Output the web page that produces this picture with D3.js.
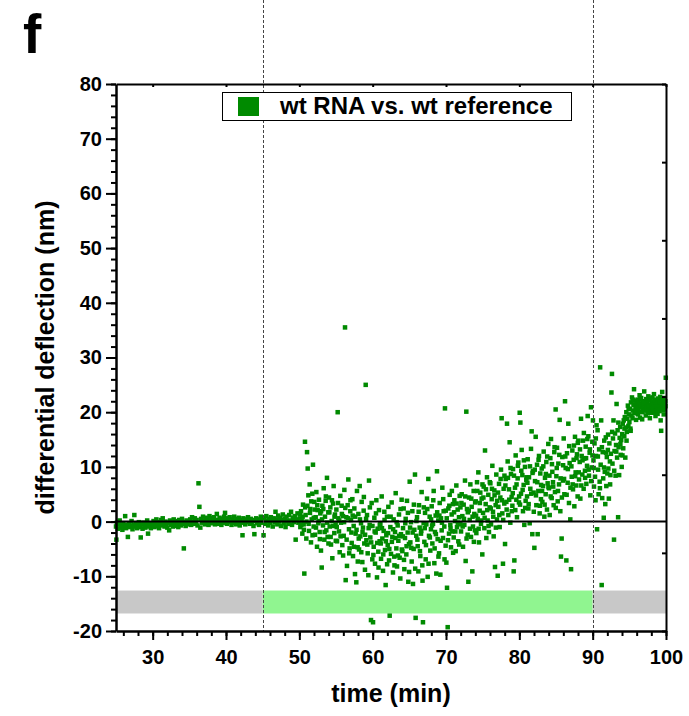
<!DOCTYPE html>
<html><head><meta charset="utf-8">
<script src="https://cdn.jsdelivr.net/npm/d3@7"></script>
<style>
body{margin:0;background:#fff}
svg{display:block}
text{font-family:"Liberation Sans",Arial,Helvetica,sans-serif;font-weight:bold;fill:#000}
</style>
</head><body>
<svg id="chart" width="689" height="716"></svg>
<script>
// ---------- data ----------
const panelLabel = "f";
const xTitle = "time (min)";
const yTitle = "differential deflection (nm)";
const seriesName = "wt RNA vs. wt reference";
const xDomain = [25, 100];
const yDomain = [-20, 80];
const xTicks = [30, 40, 50, 60, 70, 80, 90, 100];
const yTicks = [-20, -10, 0, 10, 20, 30, 40, 50, 60, 70, 80];
const markerTimes = [45, 90];
const stageFrom = [25, 45, 90];
const stageTo = [45, 90, 100];
const stageKind = ["off", "on", "off"];
const stageRange = [-16.8, -12.6];

// baseline 25-50 min
const baseline = [
[25.00,-0.9],[25.05,-3.3],[25.12,-0.2],[25.25,-1.3],[25.37,-0.5],[25.50,0.2],[25.62,-1.1],[25.75,-0.7],[25.87,-1.5],
[26.00,-0.3],[26.12,-0.9],[26.25,1.0],[26.37,-1.2],[26.50,-0.6],[26.62,-2.8],[26.75,-0.4],[26.87,-1.0],
[27.00,-0.8],[27.12,0.1],[27.25,-1.4],[27.37,-0.6],[27.50,1.2],[27.62,-0.9],[27.75,-0.3],[27.87,-1.2],
[28.00,-0.7],[28.12,-0.1],[28.25,-1.0],[28.37,-2.9],[28.50,-0.5],[28.62,-1.3],[28.75,-0.2],[28.87,-0.8],
[29.00,-1.1],[29.12,-0.4],[29.25,0.2],[29.37,-2.2],[29.50,-0.9],[29.62,-0.3],[29.75,-1.2],[29.87,-0.6],
[30.00,-0.5],[30.12,0.1],[30.25,-1.0],[30.37,-0.3],[30.50,0.4],[30.62,-0.8],[30.75,-0.1],[30.87,-1.2],
[31.00,-0.4],[31.12,0.3],[31.25,-0.7],[31.37,0.6],[31.50,-0.2],[31.62,-0.9],[31.75,0.0],[31.87,-0.5],
[32.00,-1.1],[32.12,-0.2],[32.25,-1.6],[32.37,0.2],[32.50,-0.6],[32.62,-0.1],[32.75,-0.9],[32.87,0.4],
[33.00,-0.3],[33.12,-0.8],[33.25,0.1],[33.37,-0.5],[33.50,-1.0],[33.62,0.3],[33.75,-0.2],[33.87,-0.7],
[34.00,0.5],[34.12,-0.4],[34.25,-4.9],[34.37,-0.1],[34.50,-0.8],[34.62,0.2],[34.75,-0.5],[34.87,0.0],
[35.00,-0.3],[35.12,0.4],[35.25,-0.6],[35.37,0.8],[35.50,0.0],[35.62,-0.4],[35.75,0.6],[35.87,-0.1],
[36.00,0.3],[36.12,-0.7],[36.25,7.0],[36.37,2.7],[36.50,-1.1],[36.62,0.5],[36.75,-0.2],[36.87,0.9],
[37.00,0.1],[37.12,-0.5],[37.25,0.7],[37.37,-0.2],[37.50,0.4],[37.62,-0.6],[37.75,1.0],[37.87,0.2],
[38.00,-0.3],[38.12,0.6],[38.25,-0.1],[38.37,0.8],[38.50,-0.5],[38.62,0.3],[38.75,1.4],[38.87,0.0],
[39.00,-0.4],[39.12,0.7],[39.25,0.1],[39.37,-0.6],[39.50,0.5],[39.62,-0.2],[39.75,0.9],[39.87,1.6],
[40.00,0.2],[40.12,-0.4],[40.25,0.6],[40.37,-0.1],[40.50,0.8],[40.62,0.0],[40.75,-0.6],[40.87,0.4],
[41.00,-0.2],[41.12,0.9],[41.25,0.1],[41.37,-0.5],[41.50,0.5],[41.62,-0.1],[41.75,0.7],[41.87,-0.7],
[42.00,0.3],[42.12,-0.2],[42.25,-2.5],[42.37,0.6],[42.50,0.0],[42.62,-0.5],[42.75,0.4],[42.87,-0.1],
[43.00,0.8],[43.12,0.2],[43.25,-0.4],[43.37,0.5],[43.50,-0.2],[43.62,0.3],[43.75,-0.8],[43.87,-2.3],
[44.00,0.1],[44.12,0.6],[44.25,-0.3],[44.37,0.4],[44.50,-0.6],[44.62,0.2],[44.75,0.9],[44.87,-0.2],
[45.00,0.3],[45.12,-2.5],[45.25,0.6],[45.37,-0.4],[45.50,1.0],[45.62,0.1],[45.75,-0.7],[45.87,0.5],
[46.00,-0.2],[46.12,0.8],[46.25,0.2],[46.37,-0.9],[46.50,0.6],[46.62,-0.1],[46.75,1.8],[46.87,0.4],
[47.00,-0.5],[47.12,1.1],[47.25,0.0],[47.37,0.7],[47.50,-0.8],[47.62,0.3],[47.75,1.3],[47.87,-0.3],
[48.00,0.5],[48.12,-1.0],[48.25,0.9],[48.37,0.1],[48.50,-0.4],[48.62,1.2],[48.75,0.2],[48.87,1.8],
[49.00,-0.6],[49.12,0.7],[49.25,-0.1],[49.37,1.0],[49.50,-3.3],[49.62,0.4],[49.75,1.5],[49.87,-0.2]
];

// injection phase 50-90 min
const response = [
[50.05,0.6],[50.14,-1.0],[50.23,1.9],[50.32,0.2],[50.41,-2.2],[50.50,3.1],[50.59,-0.5],[50.68,-9.5],[50.77,14.6],[50.86,1.2],[50.95,-3.1],
[51.05,12.7],[51.14,9.7],[51.23,4.8],[51.32,-1.7],[51.41,6.8],[51.50,2.3],[51.59,-3.8],[51.68,0.4],[51.77,5.1],[51.86,10.4],[51.95,-0.9],
[52.05,3.6],[52.14,-2.4],[52.23,0.8],[52.32,5.4],[52.41,-4.6],[52.50,2.1],[52.59,-0.3],[52.68,4.0],[52.77,-1.9],[52.86,1.5],[52.95,-5.3],
[53.05,-8.4],[53.14,2.9],[53.23,-0.7],[53.32,6.1],[53.41,-3.3],[53.50,0.9],[53.59,3.8],[53.68,-1.6],[53.77,8.0],[53.86,-2.8],[53.95,1.7],
[54.05,4.4],[54.14,-0.9],[54.23,2.6],[54.32,-4.2],[54.41,0.1],[54.50,-6.7],[54.59,3.3],[54.68,6.5],[54.77,-2.1],[54.86,1.3],[54.95,-0.5],
[55.05,2.2],[55.14,-3.6],[55.23,20.0],[55.32,0.6],[55.41,-1.8],[55.50,-5.6],[55.59,4.7],[55.68,-0.2],[55.77,2.9],[55.86,-4.3],[55.95,1.0],
[56.05,-2.6],[56.14,5.8],[56.23,35.5],[56.32,-10.7],[56.41,0.8],[56.50,-8.1],[56.59,3.0],[56.68,7.7],[56.77,-1.4],[56.86,-4.9],[56.95,1.9],
[57.05,0.3],[57.14,-3.9],[57.23,4.1],[57.32,-6.3],[57.41,-0.8],[57.50,2.4],[57.59,-9.6],[57.68,-2.2],[57.77,-11.1],[57.86,5.6],[57.95,-4.7],
[58.05,1.4],[58.14,-5.1],[58.23,6.5],[58.32,-2.7],[58.41,-0.3],[58.50,3.6],[58.59,-7.4],[58.68,-1.1],[58.77,2.0],[58.86,-4.0],[58.95,-8.8],
[59.05,25.0],[59.14,-3.4],[59.23,1.2],[59.32,-5.8],[59.41,-9.8],[59.50,7.5],[59.59,-0.6],[59.68,-2.9],[59.77,-18.0],[59.86,3.4],[59.95,-6.9],
[60.05,-18.4],[60.14,-4.6],[60.23,0.7],[60.32,-7.7],[60.41,-2.0],[60.50,3.9],[60.59,-10.2],[60.68,-1.3],[60.77,-5.5],[60.86,2.1],[60.95,-3.6],
[61.05,-0.4],[61.14,-6.8],[61.23,4.6],[61.32,-3.1],[61.41,-9.0],[61.50,-1.7],[61.59,1.8],[61.68,-5.2],[61.77,-11.6],[61.86,-2.5],[61.95,0.9],
[62.05,-4.3],[62.14,2.7],[62.23,-7.1],[62.32,-17.2],[62.41,-1.0],[62.50,-5.9],[62.59,3.5],[62.68,-2.8],[62.77,-9.3],[62.86,0.4],[62.95,-6.4],
[63.05,-1.9],[63.14,5.2],[63.23,-4.9],[63.32,-8.2],[63.41,-0.7],[63.50,-3.5],[63.59,1.3],[63.68,-6.6],[63.77,-10.4],[63.86,-2.3],[63.95,4.0],
[64.05,-5.4],[64.14,-1.2],[64.23,2.4],[64.32,-8.7],[64.41,-3.0],[64.50,0.5],[64.59,-6.0],[64.68,3.8],[64.77,-2.0],[64.86,-11.0],[64.95,-4.1],
[65.05,7.3],[65.14,-3.8],[65.23,-0.1],[65.32,-7.3],[65.41,1.9],[65.50,-11.4],[65.59,-5.0],[65.68,-1.5],[65.77,8.6],[65.86,-17.6],[65.95,-2.6],
[66.05,0.8],[66.14,-4.5],[66.23,-9.1],[66.32,3.0],[66.41,-1.1],[66.50,-6.3],[66.59,-2.2],[66.68,5.4],[66.77,-8.0],[66.86,-18.4],[66.95,-0.3],
[67.05,-3.7],[67.14,1.6],[67.23,-6.9],[67.32,-0.5],[67.41,4.2],[67.50,-10.1],[67.59,7.8],[67.68,-2.6],[67.77,0.9],[67.86,-5.3],[67.95,-1.4],
[68.05,2.8],[68.14,-4.0],[68.23,-0.4],[68.32,5.6],[68.41,-7.6],[68.50,-1.9],[68.59,1.1],[68.68,-9.5],[68.77,9.2],[68.86,-3.2],[68.95,0.2],
[69.05,-5.8],[69.14,3.4],[69.23,-9.7],[69.32,0.6],[69.41,-1.6],[69.50,6.2],[69.59,-3.0],[69.68,1.9],[69.77,-0.9],[69.86,20.7],[69.95,-4.4],
[70.05,-7.5],[70.14,-12.1],[70.23,-19.3],[70.32,2.4],[70.41,-2.2],[70.50,4.9],[70.59,-0.6],[70.68,-4.7],[70.77,1.3],[70.86,-1.8],[70.95,3.2],
[71.05,-2.9],[71.14,3.9],[71.23,0.1],[71.32,-5.4],[71.41,6.6],[71.50,-1.0],[71.59,2.2],[71.68,-3.6],[71.77,0.8],[71.86,4.7],[71.95,-0.5],
[72.05,-1.8],[72.14,5.0],[72.23,1.0],[72.32,-4.6],[72.41,3.1],[72.50,-0.6],[72.59,7.5],[72.68,-7.2],[72.77,20.1],[72.86,2.3],[72.95,-2.4],
[73.05,-11.0],[73.14,4.4],[73.23,0.3],[73.32,6.8],[73.41,-2.8],[73.50,2.7],[73.59,-9.1],[73.68,-0.9],[73.77,5.6],[73.86,1.4],[73.95,-1.6],
[74.05,3.7],[74.14,-2.1],[74.23,7.2],[74.32,0.5],[74.41,9.0],[74.50,-3.8],[74.59,2.0],[74.68,5.3],[74.77,-0.4],[74.86,4.2],[74.95,-6.0],
[75.05,1.6],[75.14,6.4],[75.23,-1.2],[75.32,13.0],[75.41,3.2],[75.50,-3.0],[75.59,8.1],[75.68,0.2],[75.77,4.9],[75.86,-1.9],[75.95,2.6],
[76.05,7.0],[76.14,-0.5],[76.23,4.1],[76.32,10.2],[76.41,1.8],[76.50,-2.7],[76.59,5.7],[76.68,-8.3],[76.77,3.0],[76.86,8.6],[76.95,0.4],
[77.05,-9.9],[77.14,2.7],[77.23,6.9],[77.32,-1.0],[77.41,4.4],[77.50,9.5],[77.59,18.9],[77.68,1.5],[77.77,-7.7],[77.86,6.0],[77.95,3.3],
[78.05,-4.1],[78.14,7.8],[78.23,3.6],[78.32,17.9],[78.41,11.0],[78.50,1.2],[78.59,5.9],[78.68,14.5],[78.77,-0.2],[78.86,8.7],[78.95,4.5],
[79.05,2.9],[79.14,9.6],[79.23,-9.1],[79.32,-7.1],[79.41,6.2],[79.50,12.1],[79.59,4.0],[79.68,0.8],[79.77,7.9],[79.86,10.8],[79.95,3.5],
[80.05,19.9],[80.14,18.1],[80.23,5.1],[80.32,13.1],[80.41,8.5],[80.50,1.9],[80.59,6.7],[80.68,-0.6],[80.77,10.0],[80.86,3.8],[80.95,7.6],
[81.05,4.6],[81.14,11.4],[81.23,2.4],[81.32,8.1],[81.41,-0.3],[81.50,6.0],[81.59,13.3],[81.68,16.5],[81.77,-2.3],[81.86,9.2],[81.95,5.3],
[82.05,-4.8],[82.14,7.4],[82.23,15.5],[82.32,3.0],[82.41,10.4],[82.50,-2.3],[82.59,5.6],[82.68,12.0],[82.77,1.5],[82.86,8.8],[82.95,4.1],
[83.05,9.7],[83.14,3.6],[83.23,6.5],[83.32,12.8],[83.41,0.9],[83.50,8.0],[83.59,5.0],[83.68,10.9],[83.77,2.2],[83.86,7.0],[83.95,14.2],
[84.05,6.1],[84.14,1.2],[84.23,11.6],[84.32,15.1],[84.41,4.3],[84.50,9.1],[84.59,7.2],[84.68,3.0],[84.77,12.7],[84.86,5.4],[84.95,20.5],
[85.05,8.3],[85.14,13.5],[85.23,3.7],[85.32,10.6],[85.41,6.8],[85.50,18.6],[85.59,1.9],[85.68,-6.4],[85.77,-3.1],[85.86,11.8],[85.95,7.5],
[86.05,15.2],[86.14,5.0],[86.23,22.0],[86.32,9.8],[86.41,-7.1],[86.50,12.5],[86.59,7.1],[86.68,17.9],[86.77,3.4],[86.86,10.7],[86.95,0.4],
[87.05,-8.7],[87.14,8.2],[87.23,13.0],[87.32,5.9],[87.41,11.3],[87.50,2.8],[87.59,15.5],[87.68,9.0],[87.77,6.6],[87.86,12.3],[87.95,4.6],
[88.05,14.8],[88.14,7.7],[88.23,10.9],[88.32,4.2],[88.41,18.8],[88.50,12.0],[88.59,8.6],[88.68,14.8],[88.77,6.0],[88.86,11.5],[88.95,9.3],
[89.05,13.7],[89.14,6.9],[89.23,10.2],[89.32,19.3],[89.41,15.6],[89.50,8.4],[89.59,12.6],[89.68,4.8],[89.77,20.9],[89.86,9.9],[89.95,14.6]
];

// interleaved samples, same phase
const responseB = [
[50.10,1.4],[50.27,-0.6],[50.45,0.9],[50.62,-1.5],[50.80,2.6],[50.97,0.0],
[51.10,2.9],[51.27,-0.4],[51.45,1.6],[51.62,3.7],[51.80,-2.5],[51.97,0.7],
[52.10,2.2],[52.27,-1.1],[52.45,3.0],[52.62,0.1],[52.80,-3.2],[52.97,1.9],
[53.10,0.4],[53.27,2.3],[53.45,-1.9],[53.62,4.6],[53.80,-0.2],[53.97,-4.0],
[54.10,1.7],[54.27,-2.8],[54.45,3.9],[54.62,-0.8],[54.80,0.9],[54.97,-3.5],
[55.10,-1.0],[55.27,3.4],[55.45,0.2],[55.62,-2.7],[55.80,1.4],[55.97,-6.2],
[56.10,-0.1],[56.27,2.5],[56.45,-3.3],[56.62,0.6],[56.80,-5.8],[56.97,3.9],
[57.10,-2.0],[57.27,1.1],[57.45,-4.6],[57.62,0.9],[57.80,-1.5],[57.97,-7.3],
[58.10,-3.1],[58.27,0.4],[58.45,-5.6],[58.62,-1.9],[58.80,4.5],[58.97,-2.4],
[59.10,0.5],[59.27,-4.2],[59.45,-1.2],[59.62,2.6],[59.80,-3.8],[59.97,-0.8],
[60.10,-6.1],[60.27,-1.8],[60.45,1.5],[60.62,-3.9],[60.80,-8.4],[60.97,-0.6],
[61.10,-4.0],[61.27,-1.2],[61.45,-6.0],[61.62,0.3],[61.80,-3.6],[61.97,-7.8],
[62.10,-2.1],[62.27,-5.0],[62.45,0.9],[62.62,-3.7],[62.80,-1.4],[62.97,-8.0],
[63.10,-3.0],[63.27,-0.1],[63.45,-6.2],[63.62,-2.6],[63.80,2.3],[63.97,-5.1],
[64.10,-2.7],[64.27,-7.0],[64.45,-0.3],[64.62,-4.5],[64.80,1.6],[64.97,-9.2],
[65.10,-1.1],[65.27,-4.8],[65.45,-2.0],[65.62,3.1],[65.80,-8.6],[65.97,0.1],
[66.10,-3.3],[66.27,1.8],[66.45,-5.4],[66.62,-1.7],[66.80,-10.8],[66.97,2.6],
[67.10,-1.2],[67.27,-4.3],[67.45,2.3],[67.62,-7.7],[67.80,-2.9],[67.97,0.4],
[68.10,-0.7],[68.27,3.9],[68.45,-4.9],[68.62,-2.3],[68.80,1.7],[68.97,-6.4],
[69.10,1.1],[69.27,-3.5],[69.45,-0.2],[69.62,4.1],[69.80,-6.9],[69.97,2.0],
[70.10,0.6],[70.27,-3.4],[70.45,2.9],[70.62,-1.3],[70.80,5.6],[70.97,-5.7],
[71.10,1.7],[71.27,-1.8],[71.45,3.3],[71.62,-0.2],[71.80,-4.2],[71.97,2.6],
[72.10,3.4],[72.27,-0.9],[72.45,0.5],[72.62,4.6],[72.80,-3.1],[72.97,1.7],
[73.10,2.0],[73.27,-1.3],[73.45,4.2],[73.62,0.9],[73.80,-3.7],[73.97,3.5],
[74.10,1.1],[74.27,5.6],[74.45,-1.3],[74.62,3.4],[74.80,0.2],[74.97,6.8],
[75.10,4.4],[75.27,0.7],[75.45,5.9],[75.62,2.1],[75.80,-0.8],[75.97,7.2],
[76.10,2.4],[76.27,6.0],[76.45,0.9],[76.62,4.8],[76.80,-1.1],[76.97,3.8],
[77.10,5.3],[77.27,1.2],[77.45,7.8],[77.62,3.9],[77.80,0.3],[77.97,8.4],
[78.10,6.6],[78.27,2.2],[78.45,8.0],[78.62,4.0],[78.80,9.8],[78.97,1.9],
[79.10,5.2],[79.27,8.4],[79.45,2.1],[79.62,6.8],[79.80,10.2],[79.97,4.6],
[80.10,3.1],[80.27,9.3],[80.45,5.8],[80.62,11.2],[80.80,2.5],[80.97,8.1],
[81.10,7.1],[81.27,3.2],[81.45,10.1],[81.62,5.1],[81.80,8.9],[81.97,1.8],
[82.10,9.5],[82.27,4.8],[82.45,7.2],[82.62,11.3],[82.80,2.9],[82.97,6.7],
[83.10,5.6],[83.27,10.1],[83.45,3.1],[83.62,8.7],[83.80,11.9],[83.97,6.3],
[84.10,8.4],[84.27,4.6],[84.45,10.5],[84.62,6.4],[84.80,13.6],[84.97,2.5],
[85.10,9.8],[85.27,5.6],[85.45,12.2],[85.62,7.9],[85.80,4.4],[85.97,10.3],
[86.10,7.8],[86.27,11.9],[86.45,4.9],[86.62,9.6],[86.80,13.8],[86.97,6.2],
[87.10,10.1],[87.27,6.8],[87.45,13.9],[87.62,8.3],[87.80,11.6],[87.97,14.4],
[88.10,9.0],[88.27,13.2],[88.45,6.6],[88.62,11.2],[88.80,16.2],[88.97,8.0],
[89.10,11.6],[89.27,15.1],[89.45,9.5],[89.62,13.2],[89.80,7.4],[89.97,12.1]
];

// wash phase 90-100 min
const wash = [
[90.04,18.5],[90.11,11.2],[90.14,9.8],[90.18,6.4],[90.25,14.3],[90.32,8.2],[90.39,3.9],[90.43,15.2],[90.46,12.0],[90.53,17.6],[90.60,-1.4],[90.67,16.7],[90.71,11.9],[90.74,9.5],[90.81,5.0],[90.88,13.2],[90.95,7.3],[90.99,6.1],
[91.02,28.2],[91.09,10.4],[91.16,18.5],[91.23,-11.6],[91.26,13.6],[91.30,4.3],[91.37,12.7],[91.44,7.9],[91.51,0.7],[91.54,9.9],[91.58,14.8],[91.65,9.1],[91.72,3.2],[91.79,15.4],[91.82,12.6],[91.86,6.5],[91.93,11.8],
[92.00,8.8],[92.07,13.1],[92.10,15.9],[92.14,9.7],[92.21,4.2],[92.28,14.3],[92.35,11.0],[92.38,6.8],[92.42,8.5],[92.49,12.4],[92.56,23.6],[92.63,27.0],[92.66,16.4],[92.70,10.6],[92.77,15.2],[92.84,18.5],[92.91,-3.3],[92.94,9.3],[92.98,12.9],
[93.05,16.1],[93.12,8.4],[93.19,14.0],[93.22,12.8],[93.26,21.5],[93.33,11.7],[93.40,16.7],[93.47,0.8],[93.50,18.1],[93.54,13.6],[93.61,8.5],[93.68,15.3],[93.75,17.3],[93.78,14.2],[93.82,12.2],[93.89,14.9],[93.96,10.0],
[94.03,16.0],[94.06,12.1],[94.10,17.9],[94.17,13.4],[94.24,18.5],[94.31,15.6],[94.34,17.0],[94.38,19.1],[94.45,11.7],[94.52,17.2],[94.59,20.0],[94.62,14.8],[94.66,16.4],[94.73,18.8],[94.80,21.2],[94.87,17.5],[94.90,20.6],[94.94,19.6],
[95.01,18.2],[95.08,20.6],[95.15,17.0],[95.18,16.6],[95.22,21.8],[95.29,19.4],[95.36,22.7],[95.43,18.9],[95.46,22.3],[95.50,20.3],[95.57,21.3],[95.64,24.2],[95.71,19.8],[95.78,22.1],[95.85,20.7],[95.92,18.6],[95.99,21.5],
[96.05,20.4],[96.09,21.0],[96.12,22.3],[96.19,19.6],[96.23,20.2],[96.26,21.7],[96.33,20.9],[96.37,21.6],[96.40,23.1],[96.47,19.0],[96.51,22.4],[96.54,21.2],[96.61,22.6],[96.65,21.3],[96.68,20.1],[96.75,18.7],[96.79,20.0],[96.82,21.9],[96.89,20.6],[96.93,21.5],[96.96,22.0],
[97.03,23.8],[97.06,22.0],[97.10,20.3],[97.17,21.4],[97.20,20.9],[97.24,19.4],[97.31,22.4],[97.34,21.8],[97.38,20.8],[97.45,21.8],[97.48,20.3],[97.52,19.8],[97.59,22.9],[97.62,21.3],[97.66,20.5],[97.73,21.1],[97.76,22.5],[97.80,18.9],[97.87,22.2],[97.90,21.0],[97.94,20.7],
[98.01,21.6],[98.05,20.6],[98.08,19.9],[98.15,22.7],[98.19,21.9],[98.22,20.4],[98.29,21.3],[98.33,20.8],[98.36,23.3],[98.43,20.0],[98.47,22.3],[98.50,21.9],[98.57,19.3],[98.61,21.0],[98.64,22.1],[98.71,20.6],[98.75,20.3],[98.78,21.5],[98.85,19.7],[98.89,21.8],[98.92,22.5],[98.99,20.9],
[99.06,21.2],[99.09,21.9],[99.13,20.2],[99.20,22.8],[99.23,20.7],[99.27,18.5],[99.34,16.6],[99.37,22.5],[99.41,21.7],[99.48,23.7],[99.51,21.2],[99.55,20.8],[99.62,22.3],[99.65,20.4],[99.69,19.6],[99.76,21.4],[99.79,22.6],[99.83,20.5],[99.90,22.0],[99.93,21.1],[99.97,26.3]
];

// ---------- drawing ----------
const plot = {left: 116, right: 666, top: 84, bottom: 631};
const pointColor = "#008a00";
const stageColor = {off: "#c8c8c8", on: "#90f590"};
const svg = d3.select("#chart");

const x = d3.scaleLinear().domain(xDomain).range([plot.left, plot.right]);
const y = d3.scaleLinear().domain(yDomain).range([plot.bottom, plot.top]);

// stage bars
const stages = stageFrom.map((f, i) => ({from: f, to: stageTo[i], kind: stageKind[i]}));
svg.append("g").selectAll("rect").data(stages).join("rect")
  .attr("x", d => x(d.from)).attr("width", d => x(d.to) - x(d.from))
  .attr("y", y(stageRange[1])).attr("height", y(stageRange[0]) - y(stageRange[1]))
  .attr("fill", d => stageColor[d.kind]);

// points
const allPoints = baseline.concat(response, responseB, wash);
const s = 4.5;
svg.append("g").selectAll("rect").data(allPoints).join("rect")
  .attr("x", d => x(d[0]) - s / 2).attr("y", d => y(d[1]) - s / 2)
  .attr("width", s).attr("height", s).attr("fill", pointColor);

// zero line
svg.append("line")
  .attr("x1", x(xDomain[0])).attr("x2", x(xDomain[1]))
  .attr("y1", y(0)).attr("y2", y(0))
  .attr("stroke", "#000").attr("stroke-width", 2);

// dashed markers
svg.append("g").selectAll("line").data(markerTimes).join("line")
  .attr("x1", d => Math.round(x(d)) + 0.5).attr("x2", d => Math.round(x(d)) + 0.5)
  .attr("y1", 0).attr("y2", plot.bottom)
  .attr("stroke", "#444").attr("stroke-width", 1).attr("stroke-dasharray", "3,2");

// axes
const fmt = d => String(d);
function styleAxis(g, w) {
  g.selectAll(".domain").attr("stroke", "#000").attr("stroke-width", w);
  g.selectAll(".tick line").attr("stroke", "#000").attr("stroke-width", 2);
  g.selectAll("text").attr("font-size", 20).attr("fill", "#000");
  g.attr("font-family", null).attr("font-size", null);
}
svg.append("g").attr("transform", `translate(${plot.left},0)`)
  .call(d3.axisLeft(y).tickValues(d3.range(yDomain[0], yDomain[1] + 1, 2)).tickSize(5).tickSizeOuter(0).tickFormat(""))
  .call(g => { styleAxis(g, 2.5); g.select(".domain").remove(); });
svg.append("g").attr("transform", `translate(0,${plot.bottom})`)
  .call(d3.axisBottom(x).tickValues(d3.range(26, 101, 2)).tickSize(5).tickSizeOuter(0).tickFormat(""))
  .call(g => { styleAxis(g, 2.5); g.select(".domain").remove(); });
svg.append("g").attr("transform", `translate(0,${plot.top})`)
  .call(d3.axisBottom(x).tickValues(xTicks).tickSize(3).tickSizeOuter(0).tickFormat(""))
  .call(g => styleAxis(g, 2));
const rightTicks = d3.range(0, 8).map(k => yDomain[0] + k * (yDomain[1] - yDomain[0]) / 7);
svg.append("g").attr("transform", `translate(${plot.right},0)`)
  .call(d3.axisLeft(y).tickValues(rightTicks).tickSize(4).tickSizeOuter(0).tickFormat(""))
  .call(g => styleAxis(g, 2));
svg.append("g").attr("transform", `translate(${plot.left},0)`)
  .call(d3.axisLeft(y).tickValues(yTicks).tickSize(10).tickPadding(4).tickSizeOuter(0).tickFormat(fmt))
  .call(g => styleAxis(g, 2.5));
svg.append("g").attr("transform", `translate(0,${plot.bottom})`)
  .call(d3.axisBottom(x).tickValues(xTicks).tickSize(9).tickPadding(10).tickSizeOuter(0).tickFormat(fmt))
  .call(g => styleAxis(g, 2.5));

// titles
svg.append("text").attr("x", (plot.left + plot.right) / 2).attr("y", 702)
  .attr("text-anchor", "middle").attr("font-size", 25).text(xTitle);
svg.append("text").attr("transform", `translate(54,${(plot.top + plot.bottom) / 2}) rotate(-90)`)
  .attr("text-anchor", "middle").attr("font-size", 25).text(yTitle);
svg.append("text").attr("x", 23).attr("y", 53).attr("font-size", 55).text(panelLabel);

// legend
const lg = svg.append("g");
lg.append("rect").attr("x", 222.5).attr("y", 92.5).attr("width", 349).attr("height", 28)
  .attr("fill", "#fff").attr("stroke", "#000").attr("stroke-width", 1);
lg.append("rect").attr("x", 238).attr("y", 97).attr("width", 21).attr("height", 19).attr("fill", pointColor);
lg.append("text").attr("x", 280).attr("y", 114).attr("font-size", 24).text(seriesName);
</script>
</body></html>
